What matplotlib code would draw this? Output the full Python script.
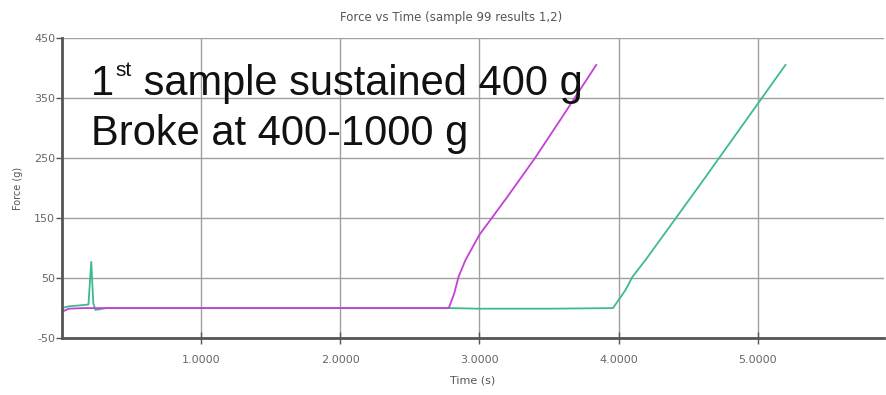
import matplotlib
matplotlib.use("Agg")
import matplotlib.pyplot as plt

plt.rcParams["axes.unicode_minus"] = False

# sample 1 (magenta) and sample 2 (green) force traces
t1 = [0.0, 0.05, 0.15, 0.5, 1.0, 1.5, 2.0, 2.5, 2.78, 2.82, 2.85, 2.9, 3.0, 3.2, 3.4, 3.6, 3.84]
f1 = [-6, -1, 0, 0, 0, 0, 0, 0, 0, 25, 52, 80, 122, 185, 250, 320, 405]

t2 = [0.0, 0.05, 0.15, 0.19, 0.21, 0.225, 0.24, 0.27, 0.32, 1.0, 2.0, 2.8, 3.0, 3.5, 3.96, 4.05, 4.1, 4.2, 4.6, 5.0, 5.2]
f2 = [0, 3, 5, 6, 77, 8, -3, -2, 0, 0, 0, 0, -1, -1, 0, 30, 52, 82, 210, 340, 405]

xticks = [1.0, 2.0, 3.0, 4.0, 5.0]
xlabels = ["1.0000", "2.0000", "3.0000", "4.0000", "5.0000"]
yticks = [-50, 50, 150, 250, 350, 450]

fig = plt.figure(figsize=(8.86, 3.95), dpi=100)
ax = fig.add_axes([0.07, 0.144, 0.928, 0.76])

ax.plot(t2, f2, color="#3dba8e", lw=1.3)
ax.plot(t1, f1, color="#c341d4", lw=1.3)

ax.set_xlim(0, 5.91)
ax.set_ylim(-50, 450)
ax.set_xticks(xticks)
ax.set_xticklabels(xlabels)
ax.set_yticks(yticks)
ax.grid(True, color="#a0a0a0", lw=1)
ax.set_axisbelow(True)

for s in ["top", "right"]:
    ax.spines[s].set_visible(False)
for s in ["left", "bottom"]:
    ax.spines[s].set_color("#555555")
    ax.spines[s].set_linewidth(2)

ax.tick_params(axis="both", colors="#555555", labelcolor="#666666", labelsize=8, length=4, width=1)
ax.tick_params(axis="x", direction="inout", length=8, pad=8)
ax.tick_params(axis="y", direction="out", pad=1)

ax.set_title("Force vs Time (sample 99 results 1,2)", fontsize=8.5, color="#555555",
             pad=12, x=0.473)
ax.set_xlabel("Time (s)", fontsize=8, color="#555555", labelpad=8)
ax.set_ylabel("Force (g)", fontsize=7, color="#555555", labelpad=8)

# big annotation, "1" + superscript "st" + rest of the line
big = dict(fontsize=30, family="Liberation Sans", va="baseline", color="#111111")
one = ax.text(0.21, 355, "1", **big)
fig.canvas.draw()
r = fig.canvas.get_renderer()
bb = one.get_window_extent(r)
base_y = ax.transData.transform((0, 355))[1]
sup = ax.annotate("st", xy=(bb.x1, base_y), xycoords="figure pixels",
                  xytext=(1, 13.5), textcoords="offset points",
                  fontsize=15, family="Liberation Sans", va="baseline", color="#111111")
fig.canvas.draw()
bb2 = sup.get_window_extent(r)
x_rest = ax.transData.inverted().transform((bb2.x1, 0))[0]
ax.text(x_rest, 355, " sample sustained 400 g", **big)
ax.text(0.21, 272, "Broke at 400-1000 g", **big)

fig.savefig("out.png", dpi=100)
